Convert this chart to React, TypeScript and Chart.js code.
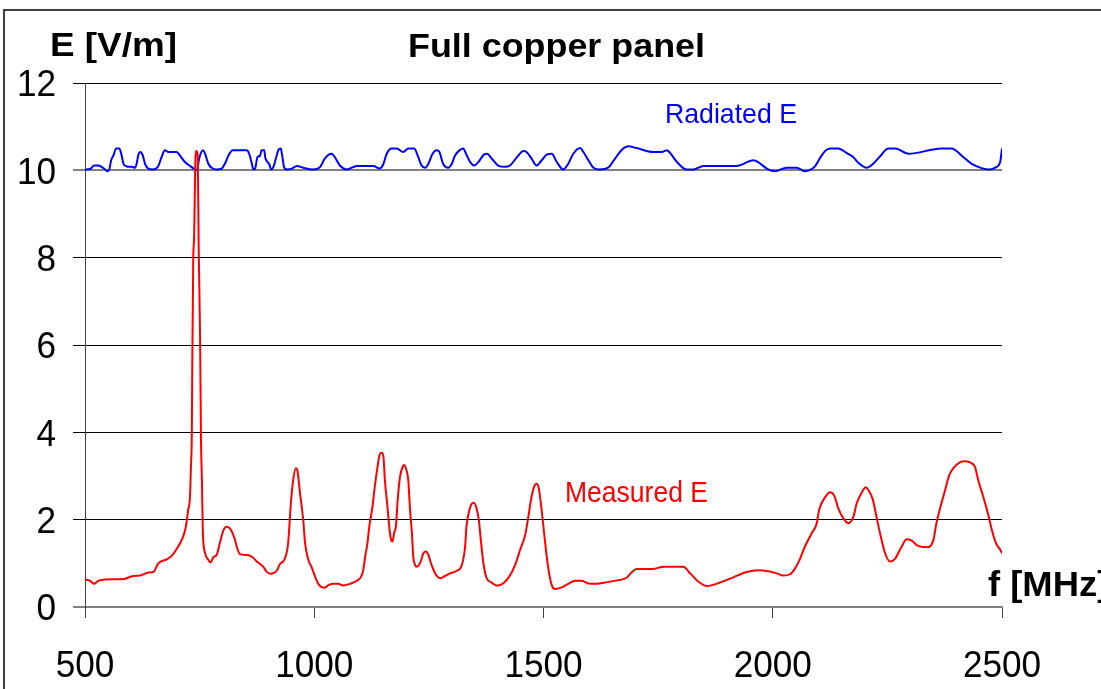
import React, { useEffect, useRef } from 'react';
import { Chart, registerables } from 'chart.js';

Chart.register(...registerables);

const FONT = '"Liberation Sans", Arial, Helvetica, sans-serif';

const titleText = 'Full copper panel';
const yTitle = 'E [V/m]';
const xTitle = 'f [MHz]';
const radLabel = 'Radiated E';
const measLabel = 'Measured E';

const xMin = 500;
const xMax = 2500;
const xStep = 500;
const yMin = 0;
const yMax = 12;
const yStep = 2;

const measFreq = [
  500, 511, 520, 529, 544, 584, 605, 620, 638, 649, 660, 678, 689, 703, 714, 720, 725, 729, 731, 733,
  734, 736, 738, 741, 743, 745, 746, 748, 751, 753, 755, 757, 762, 769, 774, 780, 787, 794, 802, 809,
  816, 825, 831, 838, 853, 864, 874, 889, 896, 905, 918, 925, 936, 943, 949, 954, 960, 963, 969, 976,
  980, 987, 994, 1002, 1011, 1022, 1031, 1042, 1052, 1063, 1078, 1093, 1102, 1107, 1111, 1116, 1120, 1127, 1132, 1138,
  1143, 1147, 1151, 1154, 1159, 1164, 1167, 1171, 1174, 1178, 1182, 1187, 1193, 1196, 1202, 1205, 1209, 1213, 1216, 1220,
  1223, 1231, 1238, 1244, 1249, 1256, 1266, 1274, 1285, 1296, 1311, 1322, 1329, 1332, 1336, 1343, 1348, 1354, 1359, 1364,
  1369, 1376, 1387, 1398, 1409, 1423, 1438, 1449, 1460, 1467, 1474, 1481, 1486, 1490, 1496, 1503, 1510, 1518, 1525, 1540,
  1554, 1569, 1583, 1598, 1616, 1634, 1660, 1681, 1692, 1703, 1739, 1761, 1805, 1820, 1838, 1856, 1885, 1914, 1943, 1969,
  1990, 2009, 2023, 2038, 2049, 2059, 2070, 2085, 2096, 2101, 2114, 2125, 2134, 2143, 2154, 2165, 2176, 2183, 2194, 2203,
  2208, 2218, 2227, 2234, 2245, 2256, 2267, 2281, 2292, 2303, 2317, 2336, 2350, 2357, 2366, 2376, 2385, 2394, 2408, 2419,
  2430, 2441, 2448, 2459, 2470, 2478, 2487, 2496, 2500,
];

const measE = [
  0.63, 0.6, 0.53, 0.6, 0.63, 0.64, 0.71, 0.72, 0.79, 0.8, 1.0, 1.09, 1.17, 1.38, 1.61, 1.84, 2.22, 2.53, 3.2, 4.0,
  5.6, 7.9, 8.5, 10.3, 10.45, 10.4, 10.3, 8.2, 6.2, 3.8, 2.9, 1.72, 1.23, 1.08, 1.02, 1.14, 1.19, 1.46, 1.76, 1.84,
  1.8, 1.61, 1.38, 1.21, 1.19, 1.15, 1.05, 0.92, 0.81, 0.76, 0.83, 0.98, 1.11, 1.46, 2.37, 2.91, 3.18, 3.14, 2.6, 1.99,
  1.46, 1.08, 0.92, 0.69, 0.5, 0.44, 0.5, 0.53, 0.53, 0.49, 0.53, 0.6, 0.69, 0.85, 1.15, 1.46, 1.84, 2.3, 2.75, 3.21,
  3.5, 3.53, 3.44, 2.91, 2.37, 1.8, 1.57, 1.5, 1.69, 1.84, 2.45, 2.98, 3.21, 3.25, 3.1, 2.91, 2.22, 1.69, 1.15, 0.96,
  0.92, 1.01, 1.23, 1.27, 1.19, 0.96, 0.73, 0.66, 0.71, 0.77, 0.83, 0.96, 1.38, 1.84, 2.11, 2.36, 2.39, 2.26, 1.99, 1.46,
  1.0, 0.66, 0.56, 0.49, 0.52, 0.66, 0.96, 1.31, 1.65, 2.07, 2.53, 2.79, 2.82, 2.7, 2.22, 1.53, 0.92, 0.5, 0.41, 0.45,
  0.53, 0.6, 0.6, 0.54, 0.53, 0.56, 0.61, 0.67, 0.79, 0.87, 0.87, 0.92, 0.92, 0.77, 0.58, 0.48, 0.56, 0.68, 0.8, 0.84,
  0.82, 0.77, 0.72, 0.75, 0.89, 1.09, 1.38, 1.69, 1.92, 2.22, 2.51, 2.63, 2.55, 2.26, 2.03, 1.92, 2.07, 2.37, 2.62, 2.74,
  2.69, 2.47, 2.03, 1.69, 1.23, 1.04, 1.11, 1.38, 1.55, 1.52, 1.4, 1.37, 1.52, 1.92, 2.3, 2.68, 3.02, 3.18, 3.31, 3.34,
  3.31, 3.21, 2.91, 2.53, 2.11, 1.76, 1.46, 1.31, 1.23,
];

const radFreq = [
  500, 511, 520, 529, 536, 544, 549, 553, 557, 562, 568, 575, 579, 584, 591, 602, 609, 613, 616, 621,
  626, 631, 638, 649, 659, 667, 674, 682, 700, 707, 718, 729, 740, 744, 749, 757, 762, 769, 776, 787,
  798, 805, 813, 822, 853, 858, 864, 867, 871, 876, 882, 885, 891, 893, 898, 902, 906, 911, 917, 922,
  927, 930, 934, 940, 951, 962, 976, 998, 1013, 1023, 1038, 1045, 1056, 1071, 1093, 1129, 1143, 1151, 1158, 1169,
  1180, 1194, 1205, 1218, 1227, 1234, 1242, 1249, 1258, 1267, 1273, 1281, 1292, 1300, 1307, 1318, 1325, 1331, 1340, 1349,
  1358, 1370, 1377, 1387, 1401, 1416, 1427, 1442, 1456, 1463, 1474, 1485, 1496, 1507, 1518, 1529, 1543, 1554, 1565, 1580,
  1587, 1598, 1609, 1623, 1641, 1656, 1671, 1685, 1703, 1739, 1758, 1769, 1776, 1791, 1812, 1827, 1849, 1921, 1958, 1968,
  1990, 2005, 2030, 2052, 2070, 2092, 2103, 2114, 2125, 2143, 2161, 2176, 2187, 2205, 2219, 2234, 2252, 2267, 2296, 2368,
  2390, 2416, 2434, 2474, 2485, 2496, 2500,
];

const radE = [
  10.02, 10.03, 10.11, 10.11, 10.08, 10.02, 9.98, 10.02, 10.23, 10.34, 10.5, 10.5, 10.38, 10.15, 10.09, 10.08, 10.06, 10.17, 10.34, 10.42,
  10.34, 10.15, 10.04, 10.02, 10.08, 10.3, 10.46, 10.42, 10.42, 10.34, 10.19, 10.1, 10.02, 10.0, 10.27, 10.46, 10.38, 10.15, 10.06, 10.02,
  10.04, 10.15, 10.34, 10.46, 10.46, 10.38, 10.15, 10.02, 10.04, 10.3, 10.34, 10.46, 10.46, 10.3, 10.19, 10.14, 10.02, 10.08, 10.3, 10.47,
  10.5, 10.34, 10.08, 10.02, 10.04, 10.1, 10.06, 10.02, 10.08, 10.27, 10.38, 10.3, 10.11, 10.02, 10.1, 10.1, 10.04, 10.15, 10.38, 10.5,
  10.5, 10.42, 10.5, 10.5, 10.3, 10.11, 10.06, 10.15, 10.38, 10.46, 10.42, 10.15, 10.06, 10.15, 10.34, 10.47, 10.5, 10.38, 10.19, 10.11,
  10.19, 10.36, 10.38, 10.27, 10.11, 10.08, 10.11, 10.3, 10.44, 10.42, 10.27, 10.11, 10.23, 10.36, 10.38, 10.19, 10.02, 10.15, 10.38, 10.51,
  10.42, 10.23, 10.06, 10.02, 10.06, 10.27, 10.47, 10.55, 10.51, 10.42, 10.42, 10.46, 10.4, 10.19, 10.02, 10.02, 10.1, 10.1, 10.23, 10.19,
  10.02, 9.98, 10.06, 10.06, 9.98, 10.09, 10.28, 10.44, 10.5, 10.5, 10.4, 10.3, 10.17, 10.06, 10.15, 10.32, 10.5, 10.5, 10.38, 10.5,
  10.5, 10.3, 10.15, 10.02, 10.06, 10.19, 10.5,
];

function toPoints(xs: number[], ys: number[]) {
  return xs.map((x, i) => ({ x, y: ys[i] }));
}

function drawText(
  ctx: CanvasRenderingContext2D,
  text: string,
  x: number,
  y: number,
  font: string,
  color: string,
  sx: number,
  align: CanvasTextAlign,
) {
  ctx.save();
  ctx.font = font;
  ctx.fillStyle = color;
  ctx.textAlign = align;
  ctx.textBaseline = 'alphabetic';
  ctx.translate(x, y);
  ctx.scale(sx, 1);
  ctx.fillText(text, 0, 0);
  ctx.restore();
}

function drawFitted(
  ctx: CanvasRenderingContext2D,
  text: string,
  x: number,
  y: number,
  font: string,
  color: string,
  width: number,
) {
  ctx.save();
  ctx.font = font;
  const w = ctx.measureText(text).width;
  ctx.restore();
  drawText(ctx, text, x, y, font, color, width / w, 'left');
}

const textPlugin = {
  id: 'textPlugin',
  afterDraw(chart: any) {
    const ctx: CanvasRenderingContext2D = chart.ctx;
    const xs = chart.scales.x;
    const ys = chart.scales.y;
    // outer frame
    ctx.save();
    ctx.strokeStyle = '#404040';
    ctx.lineWidth = 2;
    ctx.beginPath();
    ctx.moveTo(4, 689);
    ctx.lineTo(4, 10);
    ctx.lineTo(1101, 10);
    ctx.stroke();
    ctx.restore();

    const tickFont = `37px ${FONT}`;
    ys.ticks.forEach((t: any) => {
      const py = ys.getPixelForValue(t.value);
      drawText(ctx, String(t.value), 56, py + 13.3, tickFont, '#000', 0.95, 'right');
    });
    xs.ticks.forEach((t: any) => {
      const px = xs.getPixelForValue(t.value);
      drawText(ctx, String(t.value), px, 677, tickFont, '#000', 0.95, 'center');
    });

    drawFitted(ctx, titleText, 408, 57, `bold 33px ${FONT}`, '#000', 297);
    drawFitted(ctx, yTitle, 50, 56, `bold 34px ${FONT}`, '#000', 127);
    drawText(ctx, xTitle, 988, 596, `bold 35px ${FONT}`, '#000', 1.04, 'left');
    drawFitted(ctx, radLabel, 665, 123, `28px ${FONT}`, '#0000FF', 132);
    drawFitted(ctx, measLabel, 565, 502, `29px ${FONT}`, '#FF0000', 143);
  },
};

export default function App() {
  const ref = useRef<HTMLCanvasElement | null>(null);

  useEffect(() => {
    if (!ref.current) return;
    const chart = new Chart(ref.current, {
      type: 'line',
      data: {
        datasets: [
          {
            label: measLabel,
            data: toPoints(measFreq, measE),
            borderColor: '#FF0000',
            borderWidth: 2,
            pointRadius: 0,
            fill: false,
            cubicInterpolationMode: 'monotone',
          },
          {
            label: radLabel,
            data: toPoints(radFreq, radE),
            borderColor: '#0000FF',
            borderWidth: 2,
            pointRadius: 0,
            fill: false,
            cubicInterpolationMode: 'monotone',
          },
        ],
      },
      options: {
        animation: false,
        responsive: true,
        maintainAspectRatio: false,
        parsing: false as any,
        layout: { padding: { top: 83, right: 99, left: 0, bottom: 0 } },
        plugins: {
          legend: { display: false },
          title: { display: false },
          tooltip: { enabled: false },
        },
        scales: {
          x: {
            type: 'linear',
            min: xMin,
            max: xMax,
            ticks: { stepSize: xStep, display: false },
            grid: {
              drawOnChartArea: false,
              drawTicks: true,
              tickLength: 11,
              color: '#404040',
              lineWidth: 1,
            },
            border: { display: true, color: '#808080', width: 2 },
            afterFit: (s: any) => {
              s.height = 82;
            },
          },
          y: {
            type: 'linear',
            min: yMin,
            max: yMax,
            ticks: { stepSize: yStep, display: false },
            grid: {
              drawTicks: true,
              tickLength: 12,
              color: (c: any) => (c.tick && (c.tick.value === 10 || c.tick.value === 0) ? '#808080' : '#000000'),
              lineWidth: (c: any) => (c.tick && (c.tick.value === 10 || c.tick.value === 0) ? 2 : 1),
            },
            border: { display: true, color: '#404040', width: 1 },
            afterFit: (s: any) => {
              s.width = 85;
            },
          },
        },
      },
      plugins: [textPlugin],
    });
    return () => chart.destroy();
  }, []);

  return (
    <div style={{ position: 'absolute', left: 0, top: 0, width: 1101, height: 689, background: '#fff' }}>
      <canvas ref={ref} />
    </div>
  );
}
